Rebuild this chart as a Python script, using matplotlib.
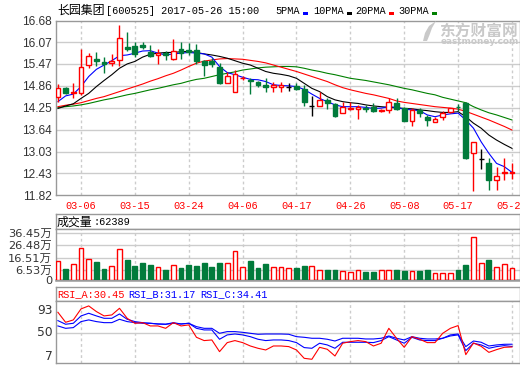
import matplotlib
matplotlib.use('Agg')
import matplotlib.pyplot as plt
import matplotlib.transforms as mtrans
from matplotlib.patches import Rectangle, Polygon
import numpy as np

# ---------------- data ----------------
stock_name = '长园集团'
stock_info = '[600525] 2017-05-26 15:00'
ma_labels = ['5PMA', '10PMA', '20PMA', '30PMA']
date_labels = ['03-06', '03-15', '03-24', '04-06', '04-17', '04-26', '05-08', '05-17', '05-26']
date_idx = [3, 10, 17, 24, 31, 38, 45, 52, 59]
price_ticks = [11.82, 12.43, 13.03, 13.64, 14.25, 14.86, 15.47, 16.07, 16.68]
vol_ticks = [6.53, 16.51, 26.48, 36.45]
vol_tick_labels = ['6.53万', '16.51万', '26.48万', '36.45万']
vol_zero_label = '0'
rsi_tick_labels = ['93', '50', '7']
vol_header = '成交量'
vol_header_val = ':62389'
rsi_headers = ['RSI_A:30.45', 'RSI_B:31.17', 'RSI_C:34.41']

opens = [14.56, 14.79, 14.66, 14.65, 15.43, 15.61, 15.52, 15.51, 15.58, 15.95,
         15.97, 15.99, 15.81, 15.73, 15.77, 15.60, 15.88, 15.86, 15.86, 15.56,
         15.54, 15.38, 14.93, 14.70, 15.07, 15.01, 14.98, 14.87, 14.82, 14.84,
         14.84, 14.86, 14.76, 14.31, 14.31, 14.47, 14.35, 14.11, 14.21, 14.21,
         14.25, 14.28, 14.15, 14.19, 14.39, 14.23, 13.89, 14.19, 14.00, 13.86,
         14.00, 14.14, 14.28, 14.37, 12.98, 12.81, 12.70, 12.23, 12.42, 12.42]
closes = [14.79, 14.65, 14.68, 15.38, 15.69, 15.55, 15.46, 15.56, 16.19, 15.88,
          15.75, 15.93, 15.70, 15.77, 15.71, 15.84, 15.77, 15.81, 15.56, 15.44,
          15.47, 14.93, 15.14, 15.18, 15.08, 14.99, 14.89, 14.82, 14.89, 14.87,
          14.84, 14.76, 14.42, 14.31, 14.47, 14.37, 14.02, 14.26, 14.25, 14.28,
          14.21, 14.17, 14.20, 14.42, 14.21, 13.89, 14.19, 14.10, 13.91, 13.94,
          14.10, 14.23, 14.27, 12.84, 13.31, 12.81, 12.23, 12.35, 12.45, 12.45]
highs = [14.90, 14.82, 14.93, 15.89, 15.77, 15.81, 15.66, 15.74, 16.56, 16.35,
         16.09, 16.09, 16.00, 15.89, 15.84, 16.16, 16.07, 16.05, 16.02, 15.57,
         15.63, 15.49, 15.24, 15.29, 15.14, 15.07, 14.99, 15.07, 14.98, 14.98,
         14.95, 14.93, 14.89, 14.58, 14.70, 14.51, 14.37, 14.42, 14.42, 14.32,
         14.33, 14.37, 14.21, 14.53, 14.51, 14.28, 14.23, 14.23, 14.05, 13.98,
         14.17, 14.25, 14.35, 14.42, 13.31, 13.09, 12.86, 12.61, 12.86, 12.70]
lows = [14.42, 14.63, 14.51, 14.61, 15.35, 15.42, 15.21, 15.40, 15.40, 15.84,
        15.66, 15.88, 15.66, 15.47, 15.59, 15.58, 15.60, 15.72, 15.47, 15.14,
        15.38, 14.90, 14.93, 14.68, 15.03, 14.64, 14.84, 14.70, 14.70, 14.70,
        14.73, 14.75, 14.31, 14.03, 14.31, 14.21, 14.00, 14.11, 14.19, 13.94,
        14.14, 14.14, 14.13, 14.10, 14.19, 13.89, 13.75, 14.00, 13.75, 13.84,
        13.91, 14.11, 14.17, 12.82, 11.94, 12.54, 11.96, 11.96, 12.23, 12.26]
ma5 = [14.42, 14.58, 14.63, 14.84, 15.12, 15.32, 15.44, 15.56, 15.70, 15.72,
       15.77, 15.83, 15.84, 15.77, 15.72, 15.75, 15.77, 15.79, 15.77, 15.75,
       15.66, 15.40, 15.23, 15.17, 15.10, 15.04, 15.03, 14.98, 14.89, 14.87,
       14.86, 14.84, 14.76, 14.63, 14.51, 14.42, 14.33, 14.28, 14.28, 14.28,
       14.26, 14.23, 14.24, 14.28, 14.26, 14.21, 14.19, 14.17, 14.05, 14.00,
       14.05, 14.08, 14.10, 13.91, 13.68, 13.30, 12.98, 12.70, 12.61, 12.45]
ma10 = [14.23, 14.30, 14.36, 14.51, 14.65, 14.84, 15.01, 15.17, 15.35, 15.47,
        15.54, 15.66, 15.74, 15.77, 15.79, 15.79, 15.81, 15.82, 15.79, 15.75,
        15.72, 15.68, 15.63, 15.56, 15.49, 15.44, 15.35, 15.26, 15.21, 15.18,
        15.14, 15.07, 14.93, 14.79, 14.70, 14.56, 14.47, 14.42, 14.39, 14.37,
        14.33, 14.30, 14.28, 14.26, 14.25, 14.23, 14.22, 14.19, 14.17, 14.14,
        14.12, 14.12, 14.14, 14.00, 13.82, 13.68, 13.49, 13.35, 13.23, 13.12]
ma20 = [14.28, 14.32, 14.35, 14.39, 14.45, 14.51, 14.56, 14.63, 14.70, 14.77,
        14.84, 14.91, 14.99, 15.06, 15.14, 15.21, 15.30, 15.40, 15.49, 15.55,
        15.58, 15.61, 15.62, 15.61, 15.60, 15.57, 15.54, 15.50, 15.44, 15.38,
        15.32, 15.26, 15.19, 15.12, 15.05, 14.98, 14.89, 14.81, 14.75, 14.70,
        14.65, 14.61, 14.56, 14.51, 14.44, 14.40, 14.37, 14.34, 14.31, 14.28,
        14.26, 14.24, 14.21, 14.15, 14.07, 13.99, 13.91, 13.82, 13.73, 13.63]
ma30 = [14.26, 14.28, 14.30, 14.33, 14.37, 14.42, 14.47, 14.51, 14.56, 14.61,
        14.65, 14.70, 14.75, 14.79, 14.84, 14.89, 14.93, 14.99, 15.04, 15.07,
        15.12, 15.17, 15.21, 15.25, 15.30, 15.33, 15.36, 15.38, 15.39, 15.40,
        15.40, 15.39, 15.35, 15.30, 15.26, 15.21, 15.17, 15.12, 15.07, 15.04,
        15.01, 14.97, 14.93, 14.89, 14.84, 14.79, 14.75, 14.70, 14.65, 14.61,
        14.54, 14.49, 14.44, 14.39, 14.28, 14.19, 14.11, 14.05, 13.98, 13.91]
volume = [14.1, 7.6, 11.6, 24.5, 15.4, 12.7, 7.6, 10.0, 23.4, 14.3,
          9.5, 11.9, 10.3, 9.0, 6.8, 10.6, 7.9, 10.8, 10.0, 12.4,
          9.2, 11.9, 12.4, 21.8, 9.2, 13.5, 7.9, 11.6, 9.0, 9.0,
          8.4, 7.9, 9.5, 10.0, 6.8, 6.8, 6.3, 6.0, 5.2, 6.8,
          4.7, 5.2, 6.8, 6.8, 6.3, 5.5, 6.0, 5.5, 6.3, 4.4,
          4.4, 4.4, 6.3, 10.8, 33.1, 12.4, 14.9, 9.0, 11.6, 8.2]
rsi_a = [80.0, 65.7, 69.1, 84.8, 89.1, 81.0, 74.8, 76.2, 85.7, 71.4,
         64.3, 65.2, 60.5, 60.5, 57.1, 65.2, 60.5, 62.0, 44.3, 39.6,
         40.5, 23.8, 36.7, 39.6, 36.7, 31.9, 28.6, 26.2, 31.9, 31.9,
         31.0, 26.2, 14.3, 12.9, 30.0, 27.2, 17.6, 35.8, 38.1, 39.6,
         38.1, 31.9, 35.8, 57.1, 42.9, 30.0, 45.2, 41.5, 36.7, 36.7,
         50.0, 57.1, 61.0, 19.5, 36.2, 31.4, 22.8, 26.7, 30.0, 30.5]
rsi_b = [68.1, 62.9, 64.3, 74.8, 78.6, 74.8, 71.4, 71.4, 77.6, 70.0,
         66.7, 65.2, 64.3, 63.3, 62.9, 65.2, 63.3, 64.3, 57.1, 54.8,
         54.8, 41.5, 47.7, 49.0, 47.7, 45.2, 41.5, 39.6, 40.5, 40.5,
         39.6, 36.7, 29.6, 28.6, 35.8, 33.4, 28.6, 37.2, 37.2, 37.2,
         37.2, 36.7, 39.6, 45.2, 40.5, 35.8, 44.3, 40.5, 39.6, 39.6,
         42.9, 46.2, 47.7, 25.3, 35.8, 33.4, 28.6, 31.0, 32.4, 31.2]
rsi_c = [60.5, 57.1, 58.1, 66.7, 69.1, 66.7, 65.2, 65.2, 70.0, 66.7,
         65.2, 64.3, 64.3, 63.3, 62.9, 64.3, 63.3, 64.3, 59.5, 57.1,
         57.1, 50.0, 52.4, 52.4, 51.4, 50.0, 48.6, 49.0, 49.0, 49.0,
         48.6, 45.2, 44.3, 42.9, 42.9, 41.5, 39.0, 42.9, 42.9, 42.9,
         41.9, 41.9, 42.9, 46.2, 42.9, 40.5, 45.2, 42.9, 41.9, 41.9,
         42.9, 47.7, 49.0, 31.0, 39.0, 37.2, 31.9, 33.4, 34.3, 34.4]

# ---------------- style ----------------
W, H = 520, 365
RED = '#ff0000'
GREEN = '#017b3b'
GRID = '#cccccc'
BORDER = '#999999'
CJK = 'Noto Sans CJK SC'
MONO = 'Liberation Mono'
LAB = '#333333'
LW = 0.8

fig = plt.figure(figsize=(W / 100, H / 100), dpi=100)
fig.patch.set_facecolor('white')


def ax_px(x0, y0, x1, y1):
    a = fig.add_axes([x0 / W, 1 - y1 / H, (x1 - x0) / W, (y1 - y0) / H])
    for s in a.spines.values():
        s.set_color(BORDER)
        s.set_linewidth(1)
    a.tick_params(length=0)
    return a


def ftext(x, y, s, **kw):
    return fig.text(x / W, 1 - y / H, s, **kw)


o = np.array(opens); c = np.array(closes); h = np.array(highs); l = np.array(lows)
x = np.arange(len(c))
XL = (-0.25, 59.98)
BW = 0.62

# ---------------- price panel ----------------
ax = ax_px(56, 20.5, 519.5, 195)
ax.set_xlim(*XL)
ax.set_ylim(price_ticks[0], price_ticks[-1])
for v in price_ticks[1:-1]:
    ax.axhline(v, color=GRID, lw=1, zorder=0)
for i in date_idx:
    ax.axvline(i, color=GRID, lw=1, ls=(0, (2, 2)), zorder=0)

ax.plot(x, ma30, color='#008000', lw=LW, zorder=2)
ax.plot(x, ma20, color=RED, lw=LW, zorder=2)
ax.plot(x, ma10, color='black', lw=LW, zorder=2)
ax.plot(x, ma5, color='#0000ff', lw=LW, zorder=2)

wick_col = np.where(c > o, RED, np.where(c < o, GREEN, 'black'))
ax.vlines(x, l, h, colors=wick_col, lw=1, zorder=3)
for i in x:
    if c[i] > o[i]:
        ax.bar(i, c[i] - o[i], BW, bottom=o[i], facecolor='white', edgecolor=RED, lw=1, zorder=4)
    elif c[i] < o[i]:
        ax.bar(i, o[i] - c[i], BW, bottom=c[i], facecolor=GREEN, edgecolor=GREEN, lw=1, zorder=4)
    else:
        ax.hlines(c[i], i - BW / 2, i + BW / 2, colors='black', lw=1, zorder=4)

ax.set_xticks([])
ax.set_yticks(price_ticks)
ax.set_yticklabels(['%.2f' % v for v in price_ticks], fontfamily='Liberation Sans', fontsize=8.6, color=LAB)
ax.tick_params(axis='y', pad=3)

# date labels
tr = mtrans.blended_transform_factory(ax.transData, fig.transFigure)
for i, s in zip(date_idx, date_labels):
    ax.text(i, 1 - 206 / H, s, transform=tr, ha='center', va='center', color=RED,
            fontfamily=MONO, fontsize=7.4, clip_on=False)

# title & legend
ftext(57, 10.5, stock_name, fontfamily=CJK, fontsize=8.6, va='center', ha='left')
ftext(105.5, 10.5, stock_info, fontfamily=MONO, fontsize=7.4, va='center', ha='left')
leg_x = [275, 313, 355, 398]
leg_c = ['#0000ff', 'black', RED, '#008000']
for xs, lab, col in zip(leg_x, ma_labels, leg_c):
    ftext(xs, 10.5, lab, fontfamily=MONO, fontsize=7.4, va='center', ha='left')
    rx = xs + 6.0 * len(lab) + 4
    fig.patches.append(Rectangle((rx / W, 1 - 14.7 / H), 5 / W, 2.6 / H,
                                 transform=fig.transFigure, facecolor=col, edgecolor='none'))

# watermark
wm = '#c9c9c9'
fig.patches.append(Polygon([(423 / W, 1 - 41 / H), (425 / W, 1 - 33 / H), (429 / W, 1 - 26 / H),
                            (436 / W, 1 - 21 / H), (432 / W, 1 - 28 / H), (429.5 / W, 1 - 35 / H),
                            (427 / W, 1 - 41 / H)], closed=True, transform=fig.transFigure,
                           facecolor=wm, edgecolor='none', zorder=5))
ftext(439, 30.5, '东方财富网', fontfamily=CJK, fontsize=11.3, fontweight='bold', color=wm,
      va='center', ha='left', zorder=5)
ftext(519, 41.5, 'eastmoney.com', fontfamily='DejaVu Sans', fontsize=6.4, fontweight='bold',
      color=wm, va='center', ha='right', zorder=5)

# ---------------- volume panel ----------------
axh = ax_px(56, 214, 519.5, 229)
axh.set_xticks([]); axh.set_yticks([])
ftext(57, 222, vol_header, fontfamily=CJK, fontsize=8.6, va='center', ha='left')
ftext(93, 222, vol_header_val, fontfamily=MONO, fontsize=7.4, va='center', ha='left')

axv = ax_px(56, 229, 519.5, 280)
axv.set_xlim(*XL)
axv.set_ylim(-1.5, 39.4)
for v in vol_ticks:
    axv.axhline(v, color=GRID, lw=1, zorder=0)
for i in date_idx:
    axv.axvline(i, color=GRID, lw=1, ls=(0, (2, 2)), zorder=0)
vol = np.array(volume)
up = c >= o
axv.bar(x[up], vol[up] + 1.5, BW, bottom=-1.5, facecolor='white', edgecolor=RED, lw=1, zorder=3)
axv.bar(x[~up], vol[~up] + 1.5, BW, bottom=-1.5, facecolor=GREEN, edgecolor=GREEN, lw=1, zorder=3)
axv.set_xticks([])
axv.set_yticks(vol_ticks)
axv.set_yticklabels(vol_tick_labels, fontfamily=['DejaVu Sans', CJK], fontsize=8.2, color=LAB)
axv.tick_params(axis='y', pad=3)
axv.spines['bottom'].set_linewidth(1.8)
ftext(53, 281.5, vol_zero_label, fontfamily='DejaVu Sans', fontsize=8.2, color=LAB,
      va='center', ha='right')

# ---------------- RSI panel ----------------
axrh = ax_px(56, 287, 519.5, 301)
axrh.set_xticks([]); axrh.set_yticks([])
for xs, s, col in zip([57, 128, 200], rsi_headers, [RED, '#0000ff', '#0000ff']):
    ftext(xs, 294, s, fontfamily=MONO, fontsize=7.4, color=col, va='center', ha='left')

axr = ax_px(56, 301, 519.5, 363)
axr.set_xlim(*XL)
axr.set_ylim(7.6, 96.1)
axr.axhline(50, color=GRID, lw=1, zorder=0)
for i in date_idx:
    axr.axvline(i, color=GRID, lw=1, ls=(0, (2, 2)), zorder=0)
axr.plot(x, rsi_c, color='#0000ff', lw=LW, zorder=3)
axr.plot(x, rsi_b, color='#0000ff', lw=LW, zorder=3)
axr.plot(x, rsi_a, color=RED, lw=LW, zorder=4)
axr.set_xticks([]); axr.set_yticks([])
for yp, s in zip([310, 333, 356], rsi_tick_labels):
    ftext(53, yp, s, fontfamily='DejaVu Sans', fontsize=8.8, color=LAB, va='center', ha='right')

fig.savefig('out.png', dpi=100)
